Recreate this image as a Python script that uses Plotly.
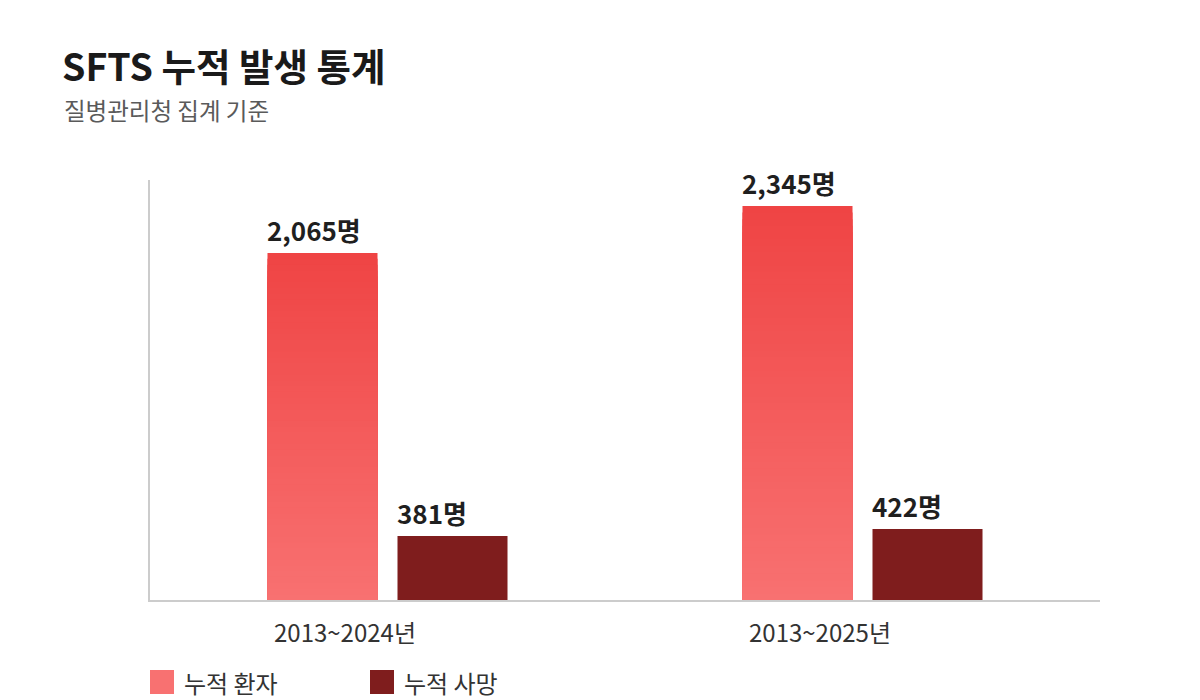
import plotly.graph_objects as go

# ---- data ----
categories = ["2013~2024년", "2013~2025년"]
patients = [2065, 2345]
deaths = [381, 422]
series_names = ["누적 환자", "누적 사망"]

FONT = "Noto Sans CJK KR"
TOP_COLOR = (239, 68, 68)      # #EF4444
BOTTOM_COLOR = (248, 113, 113)  # #F87171
PATIENT_SWATCH = "#F87171"
DEATH_COLOR = "#7F1D1D"

# layout geometry (figure pixels)
ML, MR, MT, MB = 142, 108, 172, 108
PW = 1200 - ML - MR
PH = 700 - MT - MB


def mix(t):
    r = [round(BOTTOM_COLOR[k] + (TOP_COLOR[k] - BOTTOM_COLOR[k]) * t) for k in range(3)]
    return f"rgb({r[0]},{r[1]},{r[2]})"


fig = go.Figure()

N = 60
for i in range(N):
    frac = (N - i) / N
    fig.add_trace(go.Bar(
        x=categories,
        y=[v * frac for v in patients],
        offsetgroup="p",
        name=series_names[0],
        marker=dict(color=mix(frac - 0.5 / N), line=dict(width=0)),
        showlegend=False,
        hoverinfo="skip",
    ))

fig.add_trace(go.Bar(
    x=categories,
    y=deaths,
    offsetgroup="d",
    name=series_names[1],
    marker=dict(color=DEATH_COLOR, line=dict(width=0)),
    showlegend=False,
    hoverinfo="skip",
))

annotations = []
# value labels, left-aligned with each bar's left edge
for cat, v in zip(categories, patients):
    annotations.append(dict(
        x=cat, y=v, xref="x", yref="y", text=f"<b>{v:,}명</b>",
        xanchor="left", yanchor="bottom", xshift=-123, yshift=3,
        showarrow=False, font=dict(family=FONT, size=26, color="#1f1f1f"),
    ))
for cat, v in zip(categories, deaths):
    annotations.append(dict(
        x=cat, y=v, xref="x", yref="y", text=f"<b>{v:,}명</b>",
        xanchor="left", yanchor="bottom", xshift=7, yshift=3,
        showarrow=False, font=dict(family=FONT, size=26, color="#1f1f1f"),
    ))

# category labels (offset to the left of the group centre, as in the reference)
for cat in categories:
    annotations.append(dict(
        x=cat, y=0, xref="x", yref="paper", text=cat,
        xanchor="left", yanchor="top", xshift=-116, yshift=-12,
        showarrow=False, font=dict(family=FONT, size=24, color="#333333"),
    ))

# subtitle
annotations.append(dict(
    text="질병관리청 집계 기준",
    xref="paper", yref="paper",
    x=(62 - 150) / PW, y=(600 - 110) / PH,
    xanchor="left", yanchor="middle", showarrow=False,
    font=dict(family=FONT, size=23.5, color="#5a5a5a"),
))

# custom legend
shapes = []
legend_items = [(series_names[0], PATIENT_SWATCH, 150), (series_names[1], DEATH_COLOR, 370)]
for name, col, sx in legend_items:
    shapes.append(dict(
        type="rect", xref="paper", yref="paper",
        x0=(sx - 150) / PW, x1=(sx + 24 - 150) / PW,
        y0=(600 - 670) / PH, y1=(600 - 694) / PH,
        fillcolor=col, line=dict(width=0),
    ))
    annotations.append(dict(
        text=name, xref="paper", yref="paper",
        x=(sx + 32 - 150) / PW, y=(600 - 682) / PH,
        xanchor="left", yanchor="middle", showarrow=False,
        font=dict(family=FONT, size=24, color="#333333"),
    ))

fig.update_layout(
    width=1200, height=700,
    paper_bgcolor="white", plot_bgcolor="white",
    margin=dict(l=ML, r=MR, t=MT, b=MB),
    barmode="group",
    bargap=0.4526,
    bargroupgap=0.1538,
    showlegend=False,
    font=dict(family=FONT, color="#333333"),
    title=dict(
        text="<b>SFTS 누적 발생 통계</b>",
        x=(62 - 8) / 1200, xanchor="left", xref="container",
        y=1 - (68 - 8) / 700, yanchor="middle", yref="container",
        font=dict(family=FONT, size=37.5, color="#1a1a1a"),
    ),
    annotations=annotations,
    shapes=shapes,
    xaxis=dict(
        showline=True, linecolor="#cccccc", linewidth=2,
        showgrid=False, ticks="", showticklabels=False,
    ),
    yaxis=dict(
        range=[0, 2500],
        showline=True, linecolor="#cccccc", linewidth=2,
        showgrid=False, showticklabels=False, ticks="", zeroline=False,
    ),
)

fig.write_html("out.html")
